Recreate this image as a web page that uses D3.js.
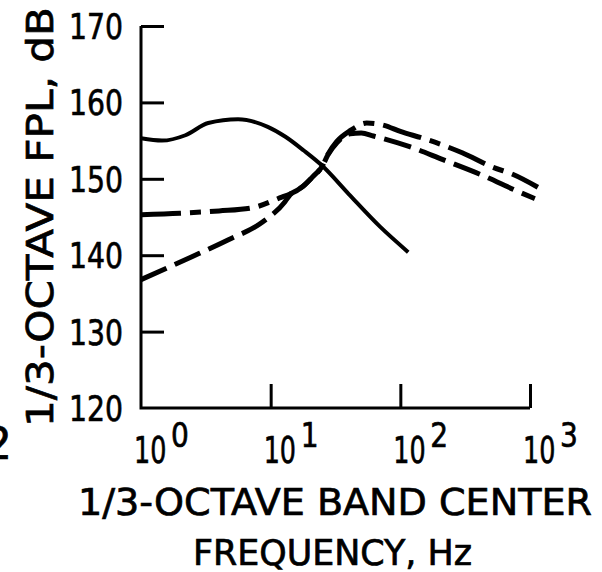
<!DOCTYPE html>
<html>
<head>
<meta charset="utf-8">
<script src="https://cdn.jsdelivr.net/npm/d3@7"></script>
<style>
  html, body { margin: 0; padding: 0; background: #fff; }
  svg { display: block; }
  text { font-family: "DejaVu Sans", "Liberation Sans", sans-serif; fill: #000; stroke: #000; stroke-width: 0.7px; }
</style>
</head>
<body>
<svg id="chart" width="602" height="572"></svg>
<script>
// 1/3-octave fluctuating pressure level spectra
const yTicks = [120, 130, 140, 150, 160, 170];
const xTickExponents = [0, 1, 2, 3];

// solid curve
const solidFreq = [1, 1.45, 2.2, 3.3, 5.6, 9.5, 13, 18, 25, 40, 70, 115];
const solidLevel = [155.3, 155.0, 155.7, 157.3, 157.8, 156.8, 155.5, 153.7, 151.7, 148.0, 143.7, 140.4];

// dash-dot curve
const dashDotFreq = [1, 2, 4, 7.2, 12.2, 14.1, 17.7, 21.2, 24.9, 27.6, 32.4, 41, 55, 75, 100, 150, 213, 300, 518, 735, 1150];
const dashDotLevel = [145.3, 145.5, 145.8, 146.2, 147.6, 148.0, 149.0, 150.3, 151.6, 153.2, 154.9, 156.3, 157.3, 157.0, 156.2, 155.3, 154.4, 153.4, 151.5, 150.6, 148.9];

// dashed curve
const dashedFreq = [1, 2.47, 4.68, 8.6, 12.9, 14.1, 17.7, 21.2, 24.9, 27.6, 32.4, 41, 50, 62, 118, 213, 410, 795, 1090];
const dashedLevel = [136.8, 139.8, 142.0, 144.3, 147.0, 147.9, 149.0, 150.3, 151.6, 153.1, 154.7, 155.9, 156.0, 155.6, 154.2, 152.5, 150.6, 148.4, 147.4];

const svg = d3.select("#chart");

const x = d3.scaleLog().domain([1, 1000]).range([141, 530]);
const y = d3.scaleLinear().domain([120, 170]).range([408, 26]);

// axes: ticks pointing into the plot
const yAxis = d3.axisLeft(y).tickValues(yTicks.filter(d => d > 120)).tickSize(-23).tickFormat("");
const xAxis = d3.axisBottom(x).tickValues(xTickExponents.filter(e => e > 0).map(e => Math.pow(10, e))).tickSize(-24).tickFormat("");

const gy = svg.append("g").attr("transform", `translate(${x(1)},0)`).call(yAxis);
const gx = svg.append("g").attr("transform", `translate(0,${y(120)})`).call(xAxis);
[gy, gx].forEach(g => {
  g.select(".domain").remove();
  g.selectAll(".tick line").attr("stroke", "#000").attr("stroke-width", 3);
});

// frame lines (left and bottom)
svg.append("path")
  .attr("d", `M${x(1)},${y(170)}V${y(120)}H${x(1000)}`)
  .attr("fill", "none").attr("stroke", "#000").attr("stroke-width", 3)
  .attr("stroke-linejoin", "miter");

// y tick labels
svg.append("g").selectAll("text").data(yTicks).join("text")
  .attr("x", 123).attr("y", d => y(d) + 13)
  .attr("text-anchor", "end")
  .attr("font-size", 36)
  .attr("textLength", 54).attr("lengthAdjust", "spacingAndGlyphs")
  .text(d => d);

// x tick labels: "10" with a raised exponent (narrowed glyphs)
const xLab = svg.append("g");
xLab.selectAll("text.base").data(xTickExponents).join("text")
  .attr("class", "base")
  .attr("transform", d => `translate(${x(Math.pow(10, d)) - 7},463) scale(0.67,1)`)
  .attr("font-size", 38)
  .text("10");
xLab.selectAll("text.exp").data(xTickExponents).join("text")
  .attr("class", "exp")
  .attr("transform", d => `translate(${x(Math.pow(10, d)) + 30},447) scale(0.85,1)`)
  .attr("font-size", 33)
  .text(d => d);

// axis titles
svg.append("text")
  .attr("x", 78).attr("y", 515)
  .attr("font-size", 38)
  .attr("textLength", 514).attr("lengthAdjust", "spacingAndGlyphs")
  .text("1/3-OCTAVE BAND CENTER");
svg.append("text")
  .attr("x", 193).attr("y", 565)
  .attr("font-size", 35)
  .attr("textLength", 279).attr("lengthAdjust", "spacingAndGlyphs")
  .text("FREQUENCY, Hz");
svg.append("text")
  .attr("transform", "translate(53,427) rotate(-90)")
  .attr("font-size", 38)
  .attr("textLength", 420).attr("lengthAdjust", "spacingAndGlyphs")
  .text("1/3-OCTAVE FPL, dB");

// edge of neighbouring panel label
svg.append("text")
  .attr("x", -16).attr("y", 459)
  .attr("font-size", 44)
  .text("2");

// curves
const line = d3.line()
  .x(d => x(d[0]))
  .y(d => y(d[1]))
  .curve(d3.curveMonotoneX);

const series = [
  { f: dashedFreq, v: dashedLevel, dash: "28,9", w: 5 },
  { f: dashDotFreq, v: dashDotLevel, dash: "40,9,11,9", w: 5 },
  { f: solidFreq, v: solidLevel, dash: null, w: 4 }
];

svg.append("g").selectAll("path").data(series).join("path")
  .attr("d", s => line(s.f.map((f, i) => [f, s.v[i]])))
  .attr("fill", "none")
  .attr("stroke", "#000")
  .attr("stroke-width", s => s.w)
  .attr("stroke-dasharray", s => s.dash);
</script>
</body>
</html>
